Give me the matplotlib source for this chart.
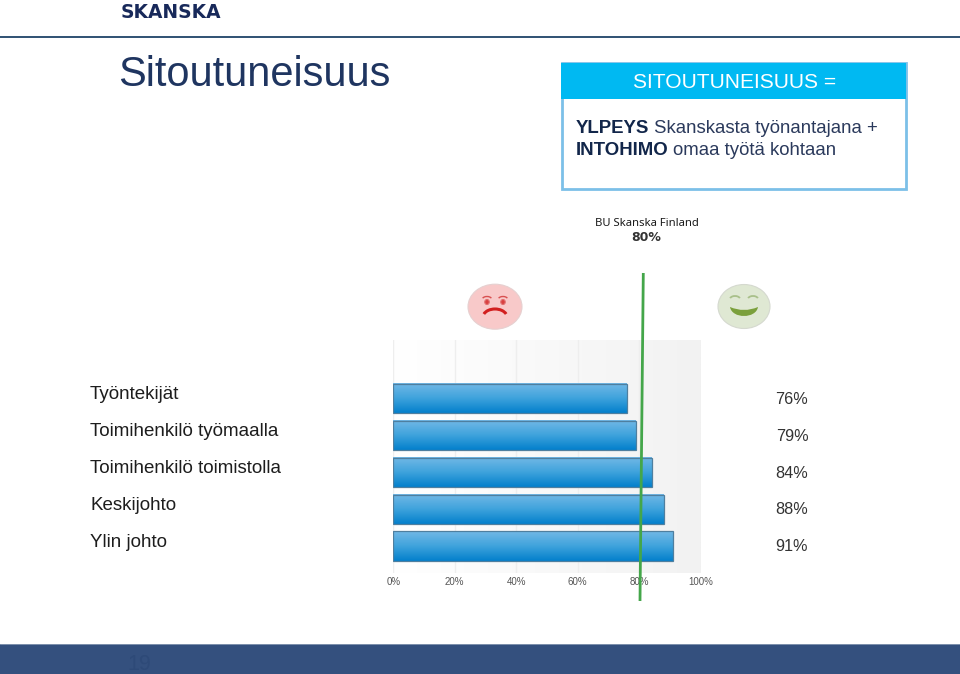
import numpy as np
import matplotlib
matplotlib.use('Agg')
import matplotlib.pyplot as plt
from matplotlib.colors import LinearSegmentedColormap
from matplotlib.patches import Ellipse, Rectangle, PathPatch, Arc
from matplotlib.path import Path
from matplotlib.transforms import blended_transform_factory

# Data
categories = ['Työntekijät', 'Toimihenkilö työmaalla', 'Toimihenkilö toimistolla', 'Keskijohto', 'Ylin johto']
values = [76, 79, 84, 88, 91]
x_ticks = [0, 20, 40, 60, 80, 100]
x_tick_labels = ['0%', '20%', '40%', '60%', '80%', '100%']
unit_label = 'BU Skanska Finland'
unit_value = '80%'

W, H = 960, 674
NAVY = '#1f3560'
DARK = '#12264a'
BODY = '#2b3a5c'

fig = plt.figure(figsize=(W / 100, H / 100), dpi=100, facecolor='white')

# Chart area
left, right, top, bottom = 393.3, 700.7, 340, 573
ax = fig.add_axes([left / W, 1 - bottom / H, (right - left) / W, (bottom - top) / H])
ax.set_xlim(0, 100)
ax.set_ylim(4.73, -1.585)

bg_cmap = LinearSegmentedColormap.from_list('bg', ['#ffffff', '#f2f2f2'])
ax.imshow(np.linspace(0, 1, 256).reshape(1, -1), cmap=bg_cmap, aspect='auto',
          extent=[0, 100, 4.73, -1.585], zorder=0)
for t in x_ticks:
    ax.axvline(t, color='#eeeeee', lw=1, zorder=1)

bar_cmap = LinearSegmentedColormap.from_list('bar', ['#72b8e6', '#3fa3dc', '#0380cc'])
y_pos = np.arange(len(values))
bars = ax.barh(y_pos, values, height=0.79, facecolor='none', edgecolor='#4f7f9f', lw=0.9, zorder=3)
for bar in bars:
    x0, y0 = bar.get_x(), bar.get_y()
    ax.imshow(np.linspace(0, 1, 64).reshape(-1, 1), cmap=bar_cmap, aspect='auto',
              extent=[x0, x0 + bar.get_width(), y0 + bar.get_height(), y0], zorder=2)
ax.set_xlim(0, 100)
ax.set_ylim(4.73, -1.585)

ax.set_xticks(x_ticks)
ax.set_xticklabels(x_tick_labels, fontsize=7, color='#555555', family='Liberation Sans')
ax.tick_params(axis='x', length=0, pad=3)
ax.set_yticks([])
for s in ax.spines.values():
    s.set_visible(False)

# Overlay in pixel coordinates
ov = fig.add_axes([0, 0, 1, 1], zorder=5)
ov.set_xlim(0, W)
ov.set_ylim(H, 0)
ov.axis('off')
ov.patch.set_alpha(0)

# Value and category labels follow the bars
tr = blended_transform_factory(ov.transData, ax.transData)
for i, (cat, v) in enumerate(zip(categories, values)):
    ov.text(90, i - 0.1, cat, transform=tr, fontsize=13.5, color='#1d1d1d',
            family='Liberation Sans', va='center', ha='left')
    ov.text(792, i + 0.02, f'{v}%', transform=tr, fontsize=11.7, color='#333333',
            family='Liberation Sans', va='center', ha='center')

# Header
ov.text(121, 12.5, 'SKANSKA', fontsize=13.4, fontweight='bold', color='#18295a',
        family='DejaVu Sans', va='center', ha='left')
ov.plot([0, W], [37, 37], color='#1f4368', lw=1.3)
ov.text(118, 86, 'Sitoutuneisuus', fontsize=30, color=NAVY, family='Liberation Sans', va='baseline', ha='left')

# Definition box
ov.add_patch(Rectangle((561.5, 63), 344, 125.5, facecolor='white', edgecolor='#7cc0e8', lw=2))
ov.add_patch(Rectangle((561, 62.5), 345, 36, facecolor='#00b9f2', edgecolor='none'))
ov.text(734.5, 82, 'SITOUTUNEISUUS =', fontsize=15.1, color='white', family='Liberation Sans', va='center', ha='center')
ov.text(576, 133, 'YLPEYS', fontsize=13.4, fontweight='bold', color=DARK, family='Liberation Sans', va='baseline')
ov.text(654, 133, 'Skanskasta työnantajana +', fontsize=13.4, color=BODY, family='Liberation Sans', va='baseline')
ov.text(576, 155, 'INTOHIMO', fontsize=13.4, fontweight='bold', color=DARK, family='Liberation Sans', va='baseline')
ov.text(673, 155, 'omaa työtä kohtaan', fontsize=13.4, color=BODY, family='Liberation Sans', va='baseline')

ov.text(646.5, 224, unit_label, fontsize=8.1, color='#1a1a1a', family='Noto Sans', va='center', ha='center')
ov.text(646.5, 237.5, unit_value, fontsize=9, fontweight='bold', color='#333333', family='DejaVu Sans', va='center', ha='center')

# Sad face
ov.add_patch(Ellipse((495, 306.7), 54, 45, facecolor='#f8c9c9', edgecolor='#e6d0d0', lw=0.8))
for ex in (487, 503):
    ov.add_patch(Ellipse((ex, 302), 4.5, 5, facecolor='#d94040', edgecolor='#e07070', lw=0.8))
    ov.add_patch(Arc((ex, 299), 9, 5, theta1=190, theta2=350, color='#d85050', lw=1))
ov.add_patch(Arc((495, 317), 24, 16, theta1=195, theta2=345, color='#d21f1f', lw=2.2))

# Happy face
ov.add_patch(Ellipse((744, 306.5), 52, 44, facecolor='#dfe8d3', edgecolor='#d5d9cf', lw=0.8))
for ex in (735, 753):
    ov.add_patch(Arc((ex, 299), 10, 6, theta1=190, theta2=350, color='#a9c08a', lw=1.3))
ov.add_patch(PathPatch(Path([(730, 307), (744, 313), (758, 307), (756, 319), (732, 319), (730, 307)],
                            [Path.MOVETO, Path.CURVE3, Path.CURVE3, Path.CURVE4, Path.CURVE4, Path.CURVE4]),
                       facecolor='#7ba03c', edgecolor='none'))

# Reference line for the 80% level
ov.plot([643.3, 640], [273, 601], color='#44a64a', lw=2, solid_capstyle='butt')

# Footer
ov.add_patch(Rectangle((0, 643.5), W, 31, facecolor='#34507e', edgecolor='none'))
ov.plot([0, W], [643.7, 643.7], color='#8c9db5', lw=0.6)
ov.text(139, 670, '19', fontsize=15.5, color='#2e4a78', family='Liberation Sans', va='baseline', ha='center')

fig.savefig('out.png', dpi=100, facecolor='white')
